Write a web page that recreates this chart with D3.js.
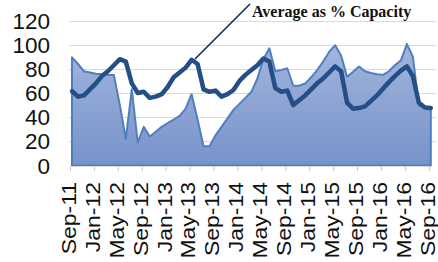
<!DOCTYPE html>
<html>
<head>
<meta charset="utf-8">
<script src="https://cdn.jsdelivr.net/npm/d3@7"></script>
<style>
  body { margin: 0; background: #fff; }
  svg { display: block; }
  .ylab, .xlab { font-family: "Liberation Sans", Arial, sans-serif; fill: #111; }
  .title { font-family: "Liberation Serif", "Times New Roman", serif; font-weight: bold; }
</style>
</head>
<body>
<div id="chart"></div>
<script>
var svgWidth = 438;
var svgHeight = 262;

// monthly categories Sep-11 .. Sep-16
var fmt = d3.timeFormat("%b-%y");
var months = d3.timeMonth.range(new Date(2011, 8, 1), new Date(2016, 9, 1)).map(fmt);

// labelled months (every 4th)
var tickLabels = ["Sep-11", "Jan-12", "May-12", "Sep-12", "Jan-13", "May-13", "Sep-13",
  "Jan-14", "May-14", "Sep-14", "Jan-15", "May-15", "Sep-15", "Jan-16", "May-16", "Sep-16"];

var yTicks = [0, 20, 40, 60, 80, 100, 120];

// shaded series (monthly % of capacity)
var monthly = [89.5, 84, 78, 77, 76, 75.5, 75, 75, 50, 22,
  63, 19, 32, 24, 28, 32, 35, 38, 41, 47,
  59, 38, 16, 16, 25, 32, 39, 46, 51, 56,
  61, 72, 88, 97, 78, 79, 80.5, 66, 66, 68,
  73, 79, 86, 94, 99.5, 91, 73.5, 77.5, 82, 78,
  76.5, 75.5, 75, 78, 83, 87, 100.5, 90, 50, 47.5,
  46];

// "Average as % Capacity" line
var average = [61.5, 57, 58, 63, 68, 74, 78, 83, 88, 86,
  68, 60, 61, 56, 57, 59, 65, 73, 77, 81,
  87.5, 84, 63, 61, 62, 57, 59, 62.5, 70, 75,
  79, 83, 88.5, 86, 64, 61, 62, 50, 54, 58,
  63, 68, 72, 77, 82, 78, 52, 47, 47.5, 49,
  53.5, 58, 63.5, 69, 74, 78.5, 82, 74, 52, 48,
  47.5];

var svg = d3.select("#chart")
  .append("svg")
  .attr("width", svgWidth)
  .attr("height", svgHeight);

var x = d3.scalePoint()
  .domain(months)
  .range([72, 430.8]);

var y = d3.scaleLinear()
  .domain([0, 120])
  .range([165.5, 20.5]);

// gradient for the area fill
var grad = svg.append("defs").append("linearGradient")
  .attr("id", "fillGrad")
  .attr("x1", 0).attr("y1", 0).attr("x2", 0).attr("y2", 1);
grad.append("stop").attr("offset", "0%").attr("stop-color", "#a2b5dc");
grad.append("stop").attr("offset", "100%").attr("stop-color", "#7793ca");

// gridlines
svg.append("g")
  .selectAll("line")
  .data(yTicks.filter(d => d > 0))
  .enter()
  .append("line")
  .attr("x1", 69)
  .attr("x2", 436)
  .attr("y1", d => Math.round(y(d)) + 0.5)
  .attr("y2", d => Math.round(y(d)) + 0.5)
  .attr("stroke", "#d9d9d9")
  .attr("stroke-width", 1);

// y labels
svg.append("g")
  .selectAll("text")
  .data(yTicks)
  .enter()
  .append("text")
  .attr("class", "ylab")
  .attr("x", 50)
  .attr("y", d => y(d))
  .attr("dy", "0.36em")
  .attr("text-anchor", "end")
  .attr("font-size", "22.5px")
  .text(d => d);

// area
var area = d3.area()
  .x((d, i) => x(months[i]))
  .y0(y(0))
  .y1(d => y(d));

svg.append("path")
  .datum(monthly)
  .attr("d", area)
  .attr("fill", "url(#fillGrad)")
  .attr("stroke", "#4f7fbf")
  .attr("stroke-width", 2)
  .attr("stroke-linejoin", "round");

// x axis (ticks sit slightly left of the points)
var xAxis = d3.axisBottom(x)
  .tickValues(tickLabels)
  .tickSize(5)
  .tickSizeOuter(0)
  .tickFormat("");

var axisG = svg.append("g")
  .attr("transform", "translate(-2, 166)")
  .call(xAxis);
axisG.select(".domain").attr("stroke", "#d9d9d9");
axisG.selectAll(".tick line").attr("stroke", "#c8c8c8");

svg.append("g")
  .selectAll("text")
  .data(tickLabels)
  .enter()
  .append("text")
  .attr("class", "xlab")
  .attr("transform", d => `translate(${x(d) - 3.5}, 182) rotate(-90) scale(1.12, 1)`)
  .attr("dy", "0.36em")
  .attr("text-anchor", "end")
  .attr("font-size", "20.5px")
  .text(d => d);

// average line
var line = d3.line()
  .x((d, i) => x(months[i]))
  .y(d => y(d));

svg.append("path")
  .datum(average)
  .attr("d", line)
  .attr("fill", "none")
  .attr("stroke", "#234e86")
  .attr("stroke-width", 4.5)
  .attr("stroke-linejoin", "round")
  .attr("stroke-linecap", "round");

// label with leader
svg.append("line")
  .attr("x1", 195)
  .attr("y1", 59)
  .attr("x2", 250)
  .attr("y2", 4)
  .attr("stroke", "#0d2a66")
  .attr("stroke-width", 1.6);

svg.append("text")
  .attr("class", "title")
  .attr("x", 252)
  .attr("y", 17)
  .attr("font-size", "16px")
  .attr("fill", "#111")
  .text("Average as % Capacity");
</script>
</body>
</html>
